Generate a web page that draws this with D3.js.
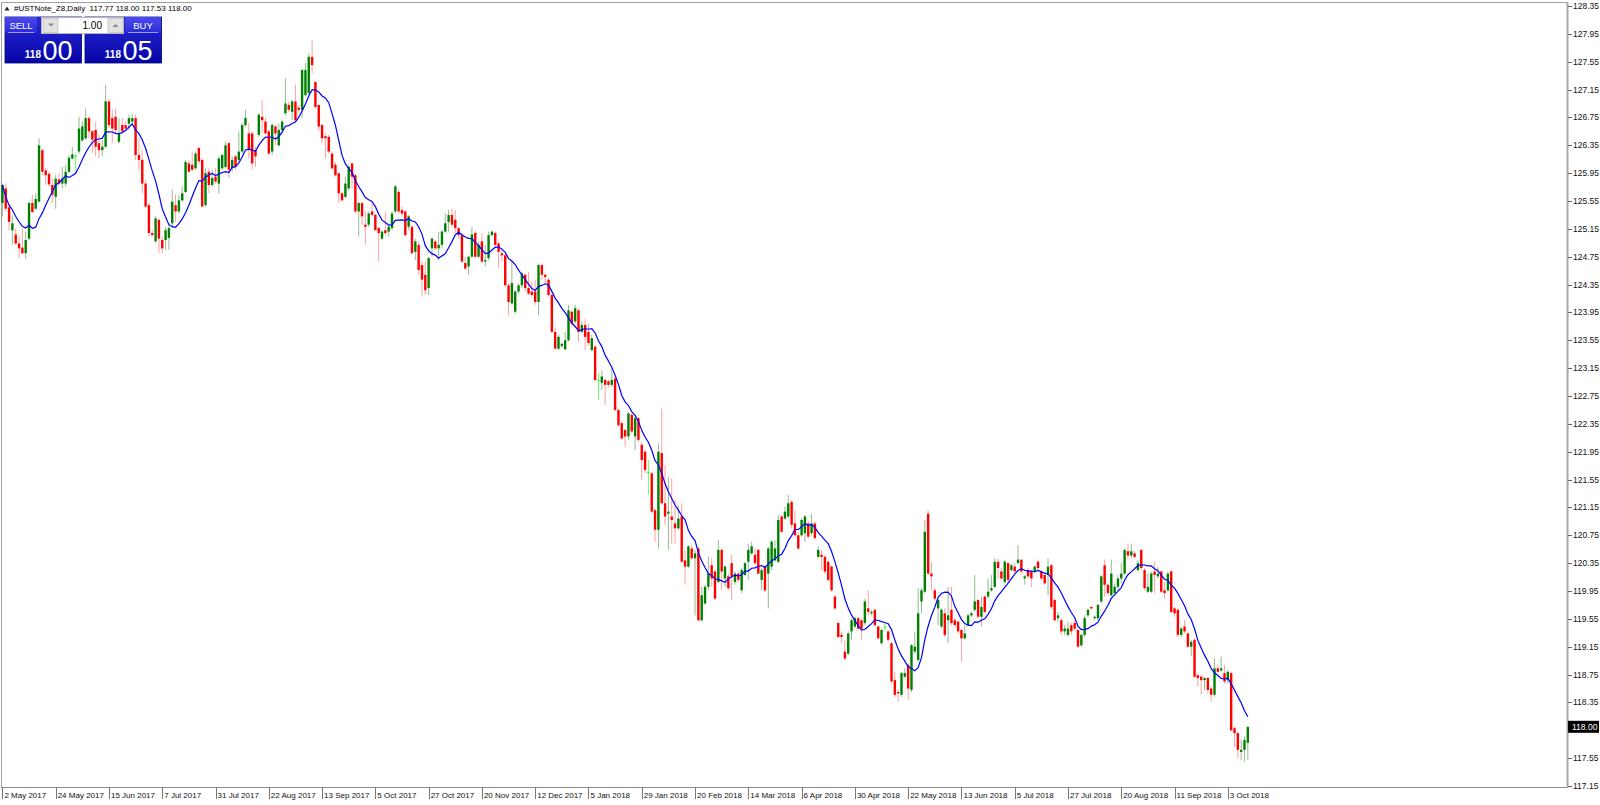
<!DOCTYPE html>
<html>
<head>
<meta charset="utf-8">
<script src="https://cdn.jsdelivr.net/npm/d3@7"></script>
<style>
  body { margin: 0; background: #fff; }
  svg { display: block; font-family: "Liberation Sans", Arial, sans-serif; }
</style>
</head>
<body>
<svg width="1600" height="805"></svg>
<script>

// daily bars, 2 May 2017 .. Oct 2018
var opens = [
125.52,125.73,125.46,125.13,125.07,124.94,124.88,124.80,125.01,125.52,
125.44,125.54,126.28,125.99,125.94,125.78,125.61,125.86,125.80,125.80,
125.97,126.16,126.20,126.26,126.42,126.45,126.74,126.55,126.57,126.38,
126.28,126.33,126.98,126.74,126.76,126.40,126.64,126.64,126.66,126.69,
126.74,126.21,126.14,125.80,125.49,125.09,124.97,125.28,124.99,124.99,
125.02,125.23,125.49,125.40,125.56,125.68,126.09,126.07,126.02,126.31,
126.14,125.49,125.97,125.78,125.90,125.80,126.02,126.04,126.38,126.02,
126.19,126.14,126.26,126.64,126.52,126.52,126.28,126.50,126.76,126.69,
126.55,126.26,126.62,126.35,126.57,126.81,126.93,126.83,126.98,126.89,
126.86,127.07,127.10,127.62,127.26,126.93,126.64,126.48,126.47,126.23,
126.07,125.95,125.66,125.61,125.73,126.09,125.92,125.40,125.52,125.21,
125.21,125.40,125.35,125.16,125.01,125.13,125.11,125.16,125.40,125.68,
125.42,125.40,125.18,125.18,124.82,124.92,124.63,124.49,124.30,124.87,
124.97,124.87,124.92,125.11,125.25,125.35,125.28,125.16,125.06,124.66,
124.61,124.75,125.09,124.75,124.97,124.68,124.73,125.06,125.09,124.94,
124.80,124.77,124.34,124.08,123.96,124.25,124.34,124.49,124.30,124.25,
124.25,124.10,124.63,124.49,124.42,124.20,123.67,123.43,123.47,123.42,
123.55,123.96,123.82,123.98,123.67,123.77,123.67,123.41,123.46,122.98,
122.94,122.98,122.96,122.91,123.00,122.55,122.36,122.26,122.17,122.48,
122.17,122.43,122.05,121.95,121.66,121.64,121.11,120.83,121.93,121.21,
121.06,121.02,120.92,120.85,121.02,120.39,120.30,120.56,120.42,120.56,
119.53,119.77,120.01,120.32,120.23,120.08,120.54,120.13,120.16,120.35,
120.08,120.20,119.96,120.18,120.37,120.49,120.47,120.54,120.11,120.30,
120.20,120.30,120.39,120.37,121.02,120.99,121.02,121.23,120.92,120.75,
120.75,120.78,120.92,120.78,120.92,120.44,120.47,120.44,120.37,120.30,
119.87,119.49,119.32,119.08,119.05,119.37,119.44,119.56,119.53,119.49,
119.70,119.63,119.68,119.44,119.20,119.44,119.37,119.20,118.67,118.50,
118.46,118.72,118.89,118.53,119.08,118.96,119.80,119.94,121.06,120.20,
119.96,119.70,119.44,119.63,119.53,119.68,119.53,119.51,119.39,119.27,
119.46,119.60,119.68,119.82,119.58,119.87,119.87,119.96,120.01,120.37,
120.23,120.08,120.35,120.25,120.30,120.35,120.40,120.13,120.25,120.23,
120.23,120.37,120.23,120.18,120.18,120.32,119.82,119.56,119.53,119.37,
119.32,119.46,119.49,119.39,119.17,119.32,119.60,119.72,119.56,119.56,
119.80,120.32,120.04,119.89,119.92,120.01,120.13,120.20,120.52,120.46,
120.49,120.25,120.54,120.25,119.94,119.94,120.23,120.16,120.23,119.96,
119.96,120.23,119.70,119.68,119.32,119.44,119.34,119.15,119.25,118.74,
118.72,118.67,118.70,118.55,118.46,118.84,118.81,118.77,118.67,118.77,
117.98,117.91,117.64,117.67,117.77
];

var highs = [
125.80,125.80,125.49,125.35,125.15,125.04,125.16,125.11,125.54,125.64,
125.66,126.45,126.30,126.03,125.97,125.87,125.92,125.95,126.04,126.07,
126.21,126.33,126.23,126.76,126.69,126.88,126.76,126.57,126.69,126.50,
126.43,127.22,127.02,126.86,126.88,126.74,126.74,126.69,126.79,126.80,
126.79,126.45,126.28,125.85,125.52,125.13,125.33,125.30,125.04,125.18,
125.23,125.71,125.64,125.64,125.76,126.14,126.14,126.26,126.26,126.33,
126.16,126.02,126.02,126.00,126.02,126.19,126.23,126.40,126.40,126.19,
126.21,126.55,126.67,126.86,126.67,126.55,126.33,126.81,127.00,126.74,
126.57,126.67,126.64,126.66,126.71,127.31,126.98,127.00,127.22,126.93,
127.45,127.53,127.67,127.86,127.26,126.93,126.66,126.52,126.50,126.26,
126.11,125.95,125.68,125.90,126.07,126.09,125.95,125.54,125.54,125.40,
125.40,125.52,125.37,125.18,125.13,125.40,125.23,125.40,125.78,125.71,
125.47,125.42,125.35,125.21,125.01,124.97,124.68,124.68,124.75,125.03,
124.99,125.11,125.13,125.37,125.42,125.44,125.42,125.18,125.09,124.75,
124.77,125.18,125.11,124.97,125.09,124.92,125.11,125.13,125.11,124.97,
124.87,124.80,124.37,124.68,124.27,124.37,124.53,124.51,124.53,124.39,
124.42,124.65,124.65,124.51,124.44,124.22,123.74,123.63,123.51,123.67,
124.06,123.98,124.06,124.00,123.82,123.86,123.79,123.63,123.48,123.08,
123.12,123.00,122.98,123.15,123.03,122.57,122.38,122.28,122.52,122.50,
122.45,122.45,122.09,121.97,121.83,121.66,121.14,122.07,122.57,121.76,
121.59,121.57,121.26,121.18,121.21,120.54,120.61,120.61,120.54,120.59,
120.01,120.04,120.44,120.42,120.25,120.68,120.56,120.32,120.20,120.47,
120.23,120.23,120.28,120.37,120.63,120.66,120.56,120.56,120.28,120.32,
120.59,120.68,120.68,121.04,121.04,121.16,121.33,121.26,121.11,120.78,
120.99,121.04,120.95,121.06,120.95,120.59,120.54,120.47,120.39,120.32,
119.89,119.51,119.37,119.25,119.37,119.56,119.58,119.58,119.55,119.84,
119.96,119.68,119.70,119.46,119.41,119.49,119.39,119.22,118.79,118.53,
118.79,118.84,118.91,119.19,119.37,119.99,119.99,120.97,121.11,120.37,
119.99,119.84,119.70,119.70,120.01,120.01,119.56,119.53,119.41,119.46,
119.63,119.65,120.18,119.84,119.87,119.89,120.13,120.18,120.42,120.42,
120.28,120.40,120.37,120.35,120.35,120.61,120.40,120.18,120.28,120.25,
120.32,120.40,120.25,120.20,120.42,120.35,119.84,119.65,119.56,119.46,
119.51,119.49,119.53,119.41,119.34,119.60,119.70,119.73,119.60,119.77,
120.18,120.40,120.06,120.40,120.06,120.18,120.35,120.56,120.63,120.63,
120.52,120.39,120.54,120.28,120.20,120.23,120.37,120.30,120.25,120.08,
120.23,120.25,119.72,119.70,119.44,119.53,119.37,119.25,119.27,118.77,
118.74,118.72,118.72,118.58,118.98,118.89,119.01,118.89,118.81,118.79,
118.00,117.93,117.81,117.86,118.00
];

var lows = [
125.33,125.40,125.13,124.92,124.92,124.73,124.78,124.72,124.99,125.38,
125.42,125.53,125.92,125.78,125.76,125.52,125.44,125.76,125.73,125.76,
125.95,126.15,125.97,126.23,126.40,126.43,126.45,126.24,126.19,126.16,
126.19,126.31,126.59,126.38,126.50,126.38,126.52,126.57,126.57,126.64,
126.14,126.00,125.66,125.45,125.04,125.04,124.95,124.80,124.80,124.85,
124.85,125.16,125.25,125.37,125.54,125.66,125.95,125.97,126.00,126.09,
125.47,125.47,125.66,125.76,125.80,125.66,126.00,126.02,125.88,125.97,
126.00,126.11,126.23,126.62,126.16,126.00,126.04,126.47,126.52,126.50,
126.21,126.21,126.35,126.33,126.52,126.78,126.83,126.71,126.69,126.81,
126.74,127.05,127.07,127.38,126.88,126.55,126.38,126.16,126.23,126.00,
125.90,125.52,125.54,125.59,125.71,125.73,125.37,125.04,125.21,124.92,
125.18,125.33,125.13,124.68,124.99,125.06,125.04,125.13,125.37,125.37,
125.33,125.04,125.13,124.78,124.70,124.50,124.18,124.20,124.20,124.75,
124.85,124.70,124.87,125.09,125.11,125.18,125.09,125.01,124.66,124.56,
124.49,124.73,124.73,124.73,124.66,124.61,124.70,125.04,124.89,124.58,
124.68,124.32,123.91,124.06,123.94,124.22,124.30,124.25,124.20,124.18,
124.06,123.91,124.42,124.34,124.18,123.65,123.41,123.41,123.44,123.41,
123.53,123.77,123.79,123.53,123.65,123.41,123.48,123.39,122.96,122.69,
122.84,122.62,122.88,122.88,122.53,122.31,122.12,122.02,122.12,122.21,
121.97,122.09,121.54,121.64,121.33,121.06,120.66,120.56,121.19,120.90,
120.54,120.63,120.63,120.83,120.35,120.04,120.28,120.40,119.60,119.51,
119.51,119.75,119.96,120.01,119.82,120.06,119.96,120.01,119.96,119.82,
120.04,120.08,119.92,120.16,120.11,120.47,120.32,120.18,119.96,119.94,
119.70,120.25,120.37,120.35,120.78,120.97,120.99,120.85,120.73,120.54,
120.73,120.66,120.71,120.75,120.68,120.42,120.25,120.20,120.08,119.94,
119.68,119.27,119.20,118.96,119.03,119.25,119.41,119.39,119.25,119.46,
119.60,119.60,119.44,119.25,119.18,119.37,119.22,118.63,118.43,118.36,
118.43,118.70,118.38,118.50,119.05,118.93,119.63,119.92,120.18,119.96,
119.82,119.46,119.41,119.29,119.20,119.46,119.44,119.34,118.93,119.25,
119.44,119.58,119.65,119.56,119.44,119.63,119.84,119.94,119.99,120.13,
120.11,120.06,120.08,120.23,120.23,120.35,120.20,120.04,120.13,120.01,
120.20,120.25,120.11,120.04,119.89,119.70,119.51,119.51,119.32,119.32,
119.29,119.32,119.39,119.13,119.15,119.29,119.58,119.68,119.53,119.53,
119.77,119.87,119.89,119.87,119.89,119.96,120.06,120.18,120.40,120.42,
120.42,120.23,120.25,119.96,119.92,119.92,119.92,120.13,119.92,119.84,
119.94,119.63,119.58,119.29,119.29,119.34,119.13,119.01,118.70,118.58,
118.46,118.53,118.48,118.36,118.43,118.77,118.79,118.62,118.62,117.93,
117.71,117.55,117.52,117.50,117.53
];

var closes = [
125.78,125.44,125.25,125.23,124.94,124.87,124.80,124.99,125.52,125.39,
125.58,126.35,125.97,125.92,125.79,125.64,125.87,125.80,125.87,125.97,
126.17,126.22,126.20,126.59,126.62,126.74,126.55,126.43,126.33,126.28,
126.33,126.98,126.64,126.59,126.57,126.52,126.55,126.59,126.74,126.74,
126.21,126.14,125.80,125.47,125.09,125.06,125.30,125.01,124.87,125.13,
125.16,125.54,125.40,125.56,125.66,126.11,125.97,126.00,126.23,126.12,
125.47,125.95,125.78,125.88,125.83,126.16,126.21,126.35,126.00,126.14,
126.04,126.26,126.64,126.74,126.28,126.09,126.19,126.79,126.71,126.52,
126.23,126.64,126.52,126.57,126.69,126.95,126.86,126.98,126.71,126.86,
127.43,127.43,127.62,127.50,126.90,126.62,126.45,126.45,126.26,126.02,
125.92,125.66,125.56,125.80,126.04,125.90,125.40,125.52,125.33,125.18,
125.37,125.35,125.13,125.09,125.11,125.09,125.18,125.37,125.76,125.40,
125.37,125.06,125.33,124.80,124.97,124.56,124.42,124.27,124.73,125.01,
124.87,124.92,125.11,125.23,125.35,125.21,125.16,125.06,124.68,124.58,
124.75,125.07,124.75,124.92,124.68,124.70,125.06,125.11,124.92,124.82,
124.77,124.34,124.10,124.37,124.25,124.34,124.51,124.30,124.22,124.20,
124.10,124.63,124.49,124.46,124.20,123.67,123.43,123.60,123.50,123.55,
123.98,123.79,124.01,123.67,123.77,123.60,123.51,123.58,122.98,122.98,
123.03,122.91,122.91,122.98,122.55,122.33,122.14,122.17,122.50,122.24,
122.43,122.12,121.83,121.69,121.66,121.09,120.83,121.95,121.21,121.02,
121.09,120.97,120.85,120.99,120.37,120.30,120.59,120.42,120.49,119.53,
119.89,120.01,120.20,120.13,119.84,120.54,120.23,120.30,119.99,120.16,
120.20,120.11,120.25,120.35,120.54,120.59,120.35,120.20,120.25,119.96,
120.56,120.66,120.56,120.97,120.80,121.09,121.21,120.90,120.75,120.56,
120.97,121.02,120.73,120.92,120.71,120.54,120.44,120.23,120.11,119.96,
119.70,119.29,119.29,118.98,119.34,119.53,119.56,119.41,119.41,119.80,
119.65,119.65,119.46,119.27,119.39,119.44,119.25,118.65,118.46,118.48,
118.77,118.77,118.55,119.17,119.15,119.63,119.96,120.80,120.20,120.16,
119.84,119.82,119.68,119.32,119.60,119.49,119.46,119.37,119.27,119.34,
119.60,119.63,119.80,119.58,119.72,119.65,119.94,119.99,120.37,120.28,
120.13,120.37,120.11,120.32,120.23,120.40,120.23,120.16,120.16,120.13,
120.30,120.28,120.13,120.06,120.30,119.72,119.53,119.60,119.37,119.41,
119.41,119.37,119.41,119.15,119.32,119.56,119.68,119.70,119.58,119.75,
120.16,120.04,119.92,120.20,120.01,120.13,120.20,120.54,120.46,120.52,
120.44,120.35,120.28,119.99,120.01,120.20,120.18,120.20,119.94,119.92,
120.20,119.65,119.63,119.32,119.41,119.37,119.15,119.22,118.72,118.70,
118.67,118.70,118.53,118.46,118.84,118.79,118.84,118.65,118.79,117.95,
117.91,117.67,117.67,117.81,118.00
];

var dateLabels = ["2 May 2017", "24 May 2017", "15 Jun 2017", "7 Jul 2017", "31 Jul 2017",
  "22 Aug 2017", "13 Sep 2017", "5 Oct 2017", "27 Oct 2017", "20 Nov 2017", "12 Dec 2017",
  "5 Jan 2018", "29 Jan 2018", "20 Feb 2018", "14 Mar 2018", "6 Apr 2018", "30 Apr 2018",
  "22 May 2018", "13 Jun 2018", "5 Jul 2018", "27 Jul 2018", "20 Aug 2018", "11 Sep 2018",
  "3 Oct 2018"];
var dateBars = [0, 16, 32, 48, 64, 80, 96, 112, 128, 144, 160, 176, 192, 208, 224, 240,
  256, 272, 288, 304, 320, 336, 352, 368];

var priceTicks = [128.35, 127.95, 127.55, 127.15, 126.75, 126.35, 125.95, 125.55, 125.15,
  124.75, 124.35, 123.95, 123.55, 123.15, 122.75, 122.35, 121.95, 121.55, 121.15, 120.75,
  120.35, 119.95, 119.55, 119.15, 118.75, 118.35, 117.95, 117.55, 117.15];

var symbolTitle = "#USTNote_Z8,Daily";
var lastBar = [117.77, 118.00, 117.53, 118.00];
var sellQuote = ["118", "00"];
var buyQuote = ["118", "05"];
var lotSize = "1.00";
var maPeriod = 9;

var svg = d3.select("svg");
var plotRight = 1567, plotBottom = 787;

var y = d3.scaleLinear().domain([117.15, 128.35]).range([786, 6]);
var x = d3.scaleLinear().domain([0, closes.length - 1])
        .range([2.4, 2.4 + 3.33 * (closes.length - 1)]);

svg.append("rect").attr("width", 1600).attr("height", 805).attr("fill", "#fff");

var defs = svg.append("defs");
defs.append("clipPath").attr("id", "plot")
    .append("rect").attr("x", 1).attr("y", 2).attr("width", plotRight - 1).attr("height", plotBottom - 2);

var g1 = defs.append("linearGradient").attr("id", "boxGrad").attr("x1", 0).attr("y1", 0).attr("x2", 0).attr("y2", 1);
g1.append("stop").attr("offset", "0%").attr("stop-color", "#2a2ad8");
g1.append("stop").attr("offset", "100%").attr("stop-color", "#0505a6");
var g2 = defs.append("linearGradient").attr("id", "lblGrad").attr("x1", 0).attr("y1", 0).attr("x2", 0).attr("y2", 1);
g2.append("stop").attr("offset", "0%").attr("stop-color", "#4a4aee");
g2.append("stop").attr("offset", "100%").attr("stop-color", "#2b2bd6");

// frame
svg.append("path")
    .attr("d", "M1.5," + plotBottom + "V2.5H" + plotRight)
    .attr("fill", "none").attr("stroke", "#a0a0a0").attr("stroke-width", 1);
svg.append("line").attr("x1", 1).attr("x2", plotRight + 1).attr("y1", plotBottom + 0.5).attr("y2", plotBottom + 0.5)
    .attr("stroke", "#8c8c8c");
svg.append("line").attr("x1", plotRight + 0.5).attr("x2", plotRight + 0.5).attr("y1", 2).attr("y2", plotBottom + 1)
    .attr("stroke", "#a8a8a8").attr("stroke-width", 2);

var plot = svg.append("g").attr("clip-path", "url(#plot)");

var bars = closes.map(function (c, i) {
    return {i: i, o: opens[i], h: highs[i], l: lows[i], c: c};
});

function candleColor(d) {
    if (d.c > d.o) return "#008000";
    if (d.c < d.o) return "#ff0000";
    return "#00ff00";
}
function wickColor(d) {
    if (d.c > d.o) return "#93bb93";
    if (d.c < d.o) return "#ffa0a0";
    return "#66ff66";
}

var candle = plot.selectAll(".candle")
    .data(bars)
    .enter().append("g")
    .attr("class", "candle");

candle.append("line")
    .attr("x1", function (d) { return x(d.i); })
    .attr("x2", function (d) { return x(d.i); })
    .attr("y1", function (d) { return y(d.h); })
    .attr("y2", function (d) { return y(d.l); })
    .attr("stroke", wickColor)
    .attr("stroke-width", 1);

candle.append("rect")
    .attr("x", function (d) { return x(d.i) - 1.2; })
    .attr("width", 2.4)
    .attr("y", function (d) { return y(Math.max(d.o, d.c)); })
    .attr("height", function (d) { return Math.max(1, Math.abs(y(d.o) - y(d.c))); })
    .attr("fill", candleColor);

// moving average of closes
var ma = closes.map(function (c, i) {
    return d3.mean(closes.slice(Math.max(0, i - maPeriod + 1), i + 1));
});
plot.append("path")
    .datum(ma)
    .attr("fill", "none")
    .attr("stroke", "#0000ff")
    .attr("stroke-width", 1.2)
    .attr("d", d3.line().x(function (d, i) { return x(i); }).y(function (d) { return y(d); }));

// price axis (the label under the current price box is hidden, as in MT4)
var cy = y(lastBar[3]);
var shownTicks = priceTicks.filter(function (d) { return Math.abs(y(d) - cy) > 11; });
var pAxis = svg.append("g");
pAxis.selectAll("line").data(priceTicks).enter().append("line")
    .attr("x1", plotRight + 1).attr("x2", plotRight + 5)
    .attr("y1", function (d) { return Math.round(y(d)) + 0.5; })
    .attr("y2", function (d) { return Math.round(y(d)) + 0.5; })
    .attr("stroke", "#666");
pAxis.selectAll("text").data(shownTicks).enter().append("text")
    .attr("x", plotRight + 6)
    .attr("y", function (d) { return y(d); })
    .attr("dy", "0.35em")
    .attr("font-size", 8.5)
    .attr("fill", "#111")
    .text(function (d) { return d.toFixed(2); });

svg.append("rect").attr("x", plotRight + 1).attr("y", cy - 6).attr("width", 31).attr("height", 12).attr("fill", "#000");
svg.append("text").attr("x", plotRight + 5).attr("y", cy).attr("dy", "0.35em")
    .attr("font-size", 8.5).attr("fill", "#fff").text(lastBar[3].toFixed(2));

// date axis
var dAxis = svg.append("g");
dAxis.selectAll("line").data(dateBars).enter().append("line")
    .attr("x1", function (d) { return Math.round(x(d)) + 0.5; })
    .attr("x2", function (d) { return Math.round(x(d)) + 0.5; })
    .attr("y1", plotBottom).attr("y2", plotBottom + 12)
    .attr("stroke", "#777");
dAxis.selectAll("text").data(dateBars).enter().append("text")
    .attr("x", function (d) { return x(d) + 2; })
    .attr("y", plotBottom + 11)
    .attr("font-size", 8)
    .attr("fill", "#111")
    .text(function (d, i) { return dateLabels[i]; });

// header
svg.append("path").attr("d", "M4.5,10.5L7,6.5L9.5,10.5Z").attr("fill", "#222");
svg.append("text").attr("x", 14).attr("y", 11).attr("font-size", 8).attr("fill", "#000")
    .style("white-space", "pre")
    .text(symbolTitle + "  " + lastBar.map(function (v) { return v.toFixed(2); }).join(" "));

// one click trading panel
var panel = svg.append("g");
[[5, sellQuote, "SELL", 5, 37], [85, buyQuote, "BUY", 125, 161]].forEach(function (p) {
    var bx = p[0];
    panel.append("rect").attr("x", bx).attr("y", 17).attr("width", 76.5).attr("height", 46)
        .attr("fill", "url(#boxGrad)").attr("stroke", "#00007a").attr("stroke-width", 0.8);
    panel.append("rect").attr("x", p[3]).attr("y", 17).attr("width", p[4] - p[3]).attr("height", 16)
        .attr("fill", "url(#lblGrad)");
    panel.append("line").attr("x1", p[3] + 3).attr("x2", p[4] - 3).attr("y1", 32.5).attr("y2", 32.5)
        .attr("stroke", "#9a9af5");
    panel.append("text").attr("x", (p[3] + p[4]) / 2).attr("y", 29).attr("text-anchor", "middle")
        .attr("font-size", 9.5).attr("fill", "#fff").text(p[2]);
    panel.append("text").attr("x", bx + 36).attr("y", 58).attr("text-anchor", "end")
        .attr("font-size", 10).attr("font-weight", "bold").attr("fill", "#fff").text(p[1][0]);
    panel.append("text").attr("x", bx + 37.5).attr("y", 59.5)
        .attr("font-size", 27).attr("fill", "#fff").text(p[1][1]);
});
panel.append("rect").attr("x", 41.5).attr("y", 17.5).attr("width", 82).attr("height", 16)
    .attr("fill", "#fff").attr("stroke", "#b8b8b8");
[[43, "M48,23.5h6l-3,3z"], [108, "M112.5,27h6l-3,-3z"]].forEach(function (b) {
    panel.append("rect").attr("x", b[0]).attr("y", 18.5).attr("width", 15).attr("height", 14)
        .attr("fill", "#e2e2e2").attr("stroke", "#c4c4c4").attr("stroke-width", 0.8);
    panel.append("path").attr("d", b[1]).attr("fill", "#8a8a8a");
});
panel.append("text").attr("x", 102).attr("y", 29).attr("text-anchor", "end")
    .attr("font-size", 10).attr("fill", "#000").text(lotSize);

</script>
</body>
</html>
